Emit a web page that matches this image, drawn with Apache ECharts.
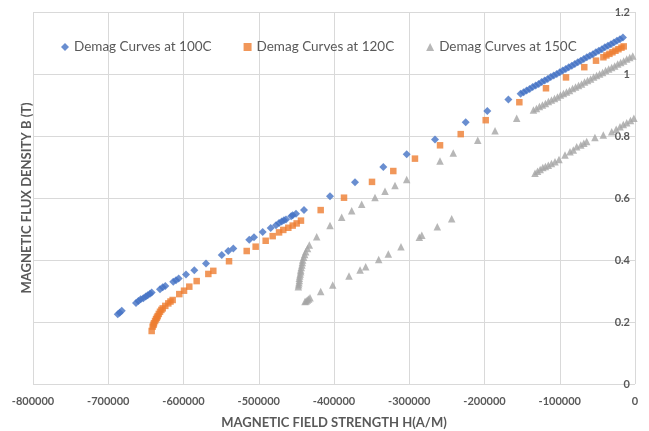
<!DOCTYPE html>
<html>
<head>
<meta charset="utf-8">
<script src="https://cdn.jsdelivr.net/npm/echarts@6/dist/echarts.min.js"></script>
<style>
  html, body { margin: 0; padding: 0; background: #ffffff; }
  #chart { width: 649px; height: 431px; }
</style>
</head>
<body>
<div id="chart"></div>
<script>
// Demagnetisation curves: [H (A/m), B (T)]
const seriesNames = ['Demag Curves at 100C', 'Demag Curves at 120C', 'Demag Curves at 150C'];

const demag100 = [
  [-687400, 0.225], [-684800, 0.230], [-682100, 0.236],
  [-663100, 0.261], [-660000, 0.268], [-656900, 0.273], [-653400, 0.277],
  [-650200, 0.282], [-647600, 0.286], [-644500, 0.291], [-642300, 0.295],
  [-631200, 0.306], [-627600, 0.312], [-624200, 0.316],
  [-613600, 0.330], [-610000, 0.335], [-606400, 0.340],
  [-596700, 0.353], [-585600, 0.367], [-570100, 0.389],
  [-549200, 0.416], [-540500, 0.429], [-533800, 0.437],
  [-512600, 0.465], [-506300, 0.473], [-494800, 0.490],
  [-484100, 0.503], [-477100, 0.512], [-473000, 0.519], [-469500, 0.524],
  [-466500, 0.528], [-463800, 0.531], [-457000, 0.541], [-454900, 0.544],
  [-450500, 0.549], [-439900, 0.561],
  [-405300, 0.606], [-372100, 0.651], [-334500, 0.700], [-303400, 0.741],
  [-265800, 0.789], [-225000, 0.844], [-196300, 0.881], [-168300, 0.918],
  [-152000, 0.936], [-148000, 0.941], [-144000, 0.947], [-140000, 0.952],
  [-136000, 0.958], [-132000, 0.963], [-128000, 0.968], [-124000, 0.974],
  [-120000, 0.979], [-116000, 0.984], [-112000, 0.990], [-108000, 0.995],
  [-104000, 1.000], [-100000, 1.006], [-96000, 1.011], [-92000, 1.016],
  [-88000, 1.022], [-84000, 1.027], [-80000, 1.032], [-76000, 1.038],
  [-72000, 1.043], [-68000, 1.048], [-64000, 1.054], [-60000, 1.059],
  [-56000, 1.064], [-52000, 1.070], [-48000, 1.075], [-44000, 1.080],
  [-40000, 1.086], [-36000, 1.091], [-32000, 1.096], [-28000, 1.102],
  [-24000, 1.107], [-20000, 1.112], [-16000, 1.118]
];

const demag120 = [
  [-642300, 0.171], [-641000, 0.185], [-639800, 0.191], [-639200, 0.196],
  [-637800, 0.203], [-636500, 0.209], [-635400, 0.214], [-634300, 0.219],
  [-632800, 0.226], [-631200, 0.233], [-629400, 0.239], [-627600, 0.244],
  [-624200, 0.252], [-620200, 0.260], [-617300, 0.266], [-614400, 0.271],
  [-605600, 0.290], [-599300, 0.301], [-592300, 0.314], [-582500, 0.332],
  [-567000, 0.355], [-560400, 0.365], [-539500, 0.396],
  [-516000, 0.429], [-504100, 0.443], [-490800, 0.462],
  [-481500, 0.477], [-473000, 0.489], [-467400, 0.497], [-460700, 0.504],
  [-454900, 0.511], [-449600, 0.518], [-443900, 0.527],
  [-417700, 0.561], [-386700, 0.601], [-349500, 0.652], [-321200, 0.687],
  [-292400, 0.727], [-259100, 0.770], [-231600, 0.806], [-198400, 0.851],
  [-153700, 0.909], [-118300, 0.954], [-91700, 0.989], [-67400, 1.022],
  [-51800, 1.043], [-42000, 1.054], [-38000, 1.060], [-34000, 1.065],
  [-30000, 1.070], [-26000, 1.075], [-22000, 1.080], [-18000, 1.085],
  [-15000, 1.089]
];

const demag150 = [
  // upper branch
  [-447400, 0.314], [-447000, 0.320], [-446600, 0.327], [-446100, 0.334],
  [-446100, 0.341], [-445500, 0.348], [-444900, 0.355], [-444300, 0.362],
  [-444300, 0.368], [-443500, 0.376], [-442700, 0.384], [-442100, 0.392],
  [-441600, 0.400], [-440300, 0.409], [-439000, 0.418], [-437600, 0.427],
  [-435200, 0.437], [-432800, 0.448], [-423000, 0.475], [-405300, 0.511],
  [-389800, 0.538], [-376500, 0.559], [-363200, 0.580], [-345500, 0.602],
  [-332200, 0.622], [-318900, 0.640], [-303400, 0.660], [-259100, 0.719],
  [-241500, 0.745], [-209000, 0.786], [-186000, 0.817], [-157200, 0.857],
  [-135000, 0.884], [-131000, 0.889], [-127000, 0.895], [-123000, 0.900],
  [-119000, 0.905], [-115000, 0.911], [-111000, 0.916], [-107000, 0.921],
  [-103000, 0.926], [-99000, 0.932], [-95000, 0.937], [-91000, 0.942],
  [-87000, 0.947], [-83000, 0.953], [-79000, 0.958], [-75000, 0.963],
  [-71000, 0.968], [-67000, 0.974], [-63000, 0.979], [-59000, 0.984],
  [-55000, 0.990], [-51000, 0.995], [-47000, 1.000], [-43000, 1.005],
  [-39000, 1.011], [-35000, 1.016], [-31000, 1.021], [-27000, 1.026],
  [-23000, 1.032], [-19000, 1.037], [-15000, 1.042], [-11000, 1.048],
  [-7000, 1.053], [-3000, 1.058],
  // lower branch
  [-438500, 0.266], [-437000, 0.268], [-435500, 0.271], [-433700, 0.274],
  [-431900, 0.278], [-417700, 0.298], [-401700, 0.319], [-380100, 0.348],
  [-365400, 0.368], [-357900, 0.378], [-340600, 0.402], [-327800, 0.419],
  [-311000, 0.443], [-286600, 0.473], [-283300, 0.480], [-262700, 0.507],
  [-243600, 0.533],
  [-132900, 0.680], [-129500, 0.686], [-126000, 0.692], [-122500, 0.698],
  [-119000, 0.702], [-115200, 0.706], [-111000, 0.711], [-106300, 0.717],
  [-101000, 0.724], [-93000, 0.739], [-86400, 0.749], [-82000, 0.755],
  [-77500, 0.765], [-72000, 0.771], [-68000, 0.777], [-64200, 0.782],
  [-53200, 0.795], [-42100, 0.803], [-31000, 0.814], [-25000, 0.822],
  [-19900, 0.830], [-15500, 0.837], [-11000, 0.843], [-6000, 0.850],
  [-1500, 0.857]
];

const xTicks = { min: -800000, max: 0, step: 100000 };
const yTicks = { min: 0, max: 1.2, step: 0.2 };

const FONT = 'Lato, "Open Sans", sans-serif';
const TEXT = '#595959';
const GRIDLINE = '#d9d9d9';

const chart = echarts.init(document.getElementById('chart'), null, { renderer: 'canvas' });

chart.setOption({
  animation: false,
  backgroundColor: '#ffffff',
  grid: {
    left: 33, right: 14, top: 12, bottom: 47, containLabel: false,
    outerBounds: { left: -100, right: -100, top: -100, bottom: -100 }
  },
  legend: {
    top: 35,
    left: 56,
    itemGap: 32,
    itemWidth: 8,
    itemHeight: 8,
    textStyle: { color: TEXT, fontFamily: FONT, fontSize: 13.5 },
    data: [
      { name: seriesNames[0], icon: 'diamond' },
      { name: seriesNames[1], icon: 'rect' },
      { name: seriesNames[2], icon: 'triangle' }
    ]
  },
  xAxis: {
    type: 'value',
    min: xTicks.min,
    max: xTicks.max,
    interval: xTicks.step,
    name: 'MAGNETIC FIELD STRENGTH H(A/M)',
    nameLocation: 'middle',
    nameGap: 32,
    nameTextStyle: { color: TEXT, fontFamily: FONT, fontSize: 13, fontWeight: 'bold' },
    axisLine: { show: false },
    axisTick: { show: false },
    axisLabel: {
      color: TEXT, fontFamily: FONT, fontSize: 11, fontWeight: 'bold', margin: 12,
      formatter: v => String(v)
    },
    splitLine: { show: true, lineStyle: { color: GRIDLINE, width: 1 } }
  },
  yAxis: {
    type: 'value',
    position: 'right',
    min: yTicks.min,
    max: yTicks.max,
    interval: yTicks.step,
    axisLine: { show: false },
    axisTick: { show: false },
    axisLabel: {
      inside: true, margin: 5, color: TEXT, fontFamily: FONT, fontSize: 11, fontWeight: 'bold',
      verticalAlign: 'middle'
    },
    splitLine: { show: true, lineStyle: { color: GRIDLINE, width: 1 } }
  },
  graphic: [{
    type: 'text',
    rotation: Math.PI / 2,
    x: 27,
    y: 198,
    style: {
      text: 'MAGNETIC FLUX DENSITY B (T)',
      fill: TEXT,
      font: 'bold 13px ' + FONT,
      align: 'center',
      verticalAlign: 'middle'
    }
  }],
  series: [
    {
      name: seriesNames[0], type: 'scatter', symbol: 'diamond', symbolSize: 8,
      itemStyle: { color: '#4472C4' }, data: demag100, z: 4
    },
    {
      name: seriesNames[1], type: 'scatter', symbol: 'rect', symbolSize: 6.5,
      itemStyle: { color: '#ED7D31' }, data: demag120, z: 3
    },
    {
      name: seriesNames[2], type: 'scatter', symbol: 'triangle', symbolSize: 7.5,
      itemStyle: { color: '#A5A5A5' }, data: demag150, z: 2
    }
  ]
});
</script>
</body>
</html>
